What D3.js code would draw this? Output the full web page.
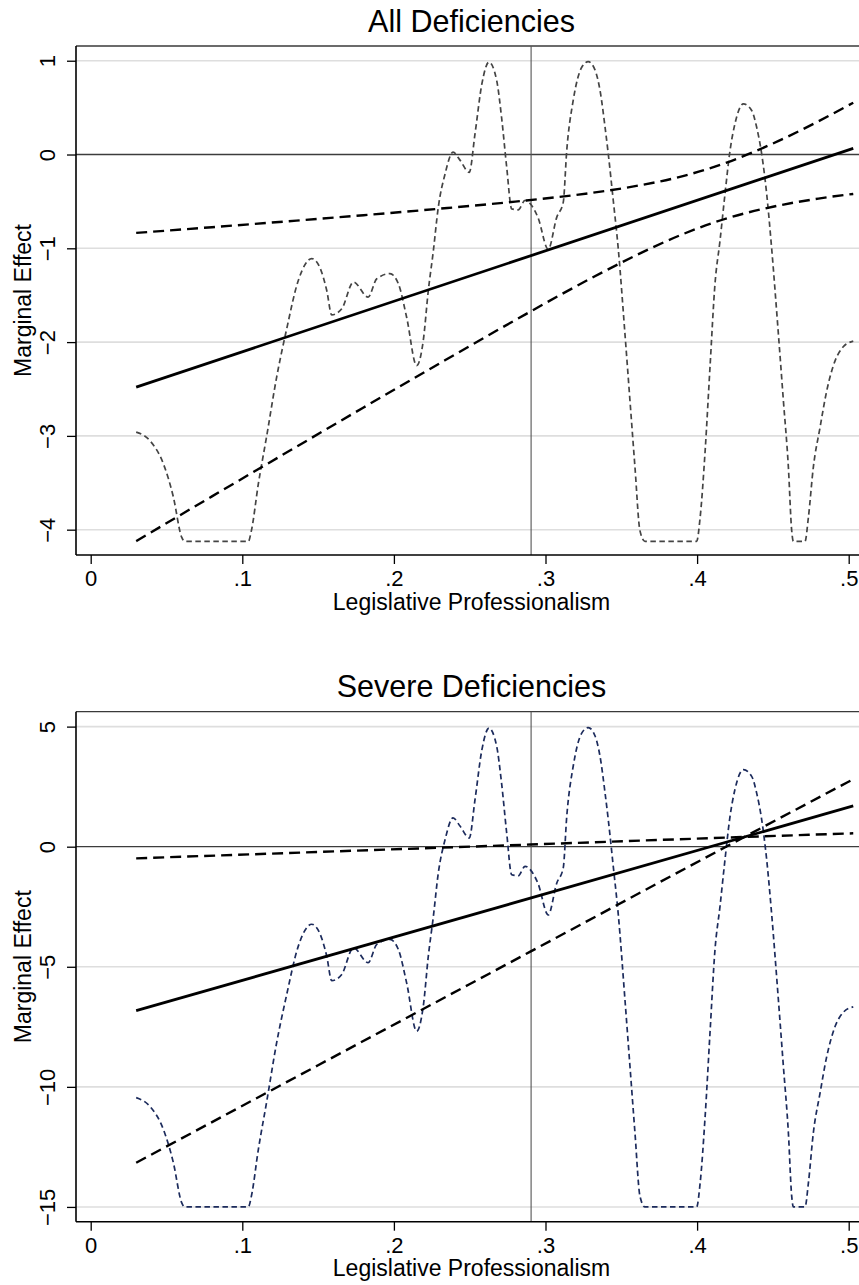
<!DOCTYPE html>
<html>
<head>
<meta charset="utf-8">
<script src="https://cdn.jsdelivr.net/npm/d3@7"></script>
<style>
  html, body { margin: 0; padding: 0; background: #fff; }
  svg { display: block; font-family: "Liberation Sans", Arial, sans-serif; }
</style>
</head>
<body>
<svg id="chart" width="859" height="1285"></svg>
<script>
// x ticks shared by both panels
const xTicks = [0, 0.1, 0.2, 0.3, 0.4, 0.5];
const meanProf = 0.2905;   // vertical reference line

// marginal effect lines (straight), read at the ends
const effectX = [0.03, 0.503];
const allEffect = [-2.48, 0.066];
const severeEffect = [-6.83, 1.70];

// confidence bounds, All Deficiencies
const allBandX = [0.03, 0.08, 0.13, 0.18, 0.23, 0.28, 0.33, 0.36, 0.39, 0.42, 0.45, 0.48, 0.503];
const allBandA = [-0.836, -0.775, -0.712, -0.647, -0.578, -0.502, -0.41, -0.335, -0.233, -0.083, 0.117, 0.354, 0.552];
const allBandB = [-4.122, -3.645, -3.17, -2.697, -2.228, -1.766, -1.32, -1.073, -0.853, -0.679, -0.557, -0.47, -0.42];

// confidence bounds, Severe Deficiencies
const severeBandX = [0.03, 0.15, 0.29, 0.42, 0.503];
const severeBandA = [-0.485, -0.22, 0.09, 0.38, 0.557];
const severeBandB = [-13.16, -9.1, -4.37, 0.03, 2.81];

// distribution of legislative professionalism (drawn in each panel's units)
const densX = [0.030, 0.039, 0.048, 0.0545, 0.060, 0.062, 0.104, 0.106, 0.1106, 0.116,
  0.1227, 0.129, 0.137, 0.1458, 0.151, 0.1557, 0.159, 0.1656, 0.1733, 0.183,
  0.1887, 0.1974, 0.203, 0.2084, 0.215, 0.2194, 0.2227, 0.226, 0.2293, 0.2337,
  0.239, 0.2436, 0.2497, 0.2535, 0.258, 0.2627, 0.2678, 0.271, 0.2744, 0.2777,
  0.282, 0.2865, 0.295, 0.3018, 0.3074, 0.3117, 0.314, 0.3183, 0.3239, 0.3282,
  0.3327, 0.336, 0.3393, 0.3414, 0.3447, 0.348, 0.3524, 0.3557, 0.359, 0.3623,
  0.3656, 0.3997, 0.402, 0.4053, 0.4085, 0.4118, 0.4151, 0.4184, 0.4217, 0.425,
  0.4305, 0.436, 0.4393, 0.4426, 0.4459, 0.4492, 0.4536, 0.4569, 0.4602, 0.4624,
  0.4635, 0.4712, 0.4734, 0.4767, 0.4811, 0.4855, 0.491, 0.4964, 0.503];
const densAll = [-2.96, -3.05, -3.30, -3.65, -4.08, -4.125, -4.125, -4.01, -3.51, -3.01,
  -2.37, -1.88, -1.34, -1.11, -1.20, -1.45, -1.71, -1.645, -1.36, -1.52,
  -1.325, -1.27, -1.38, -1.735, -2.25, -1.98, -1.45, -1.03, -0.56, -0.21,
  0.025, -0.06, -0.19, 0.22, 0.75, 0.985, 0.79, 0.40, -0.135, -0.58,
  -0.59, -0.49, -0.67, -1.01, -0.67, -0.51, 0.04, 0.58, 0.93, 0.99,
  0.90, 0.68, 0.29, 0.007, -0.49, -1.005, -1.91, -2.62, -3.33, -4.01,
  -4.125, -4.125, -3.87, -3.16, -2.27, -1.38, -0.92, -0.42, 0.04, 0.33,
  0.54, 0.47, 0.29, 0.007, -0.42, -1.005, -1.91, -2.62, -3.33, -4.01,
  -4.125, -4.125, -3.87, -3.33, -2.91, -2.52, -2.20, -2.05, -1.99];
const densSevere = [-10.45, -10.81, -11.78, -13.15, -14.82, -15.0, -15.0, -14.55, -12.60, -10.65,
  -8.15, -6.24, -4.13, -3.23, -3.59, -4.56, -5.58, -5.32, -4.21, -4.83,
  -4.07, -3.86, -4.29, -5.67, -7.68, -6.63, -4.56, -2.92, -1.09, 0.28,
  1.20, 0.86, 0.36, 1.96, 4.02, 4.94, 4.18, 2.66, 0.57, -1.17,
  -1.21, -0.82, -1.52, -2.84, -1.52, -0.89, 1.25, 3.36, 4.73, 4.96,
  4.61, 3.75, 2.23, 1.13, -0.82, -2.82, -6.36, -9.13, -11.90, -14.55,
  -15.0, -15.0, -14.01, -11.23, -7.76, -4.29, -2.49, -0.54, 1.25, 2.39,
  3.21, 2.93, 2.23, 1.13, -0.54, -2.82, -6.36, -9.13, -11.90, -14.55,
  -15.0, -15.0, -14.01, -11.90, -10.26, -8.74, -7.49, -6.90, -6.67];

const allTicks = [-4, -3, -2, -1, 0, 1];
const severeTicks = [-15, -10, -5, 0, 5];

const svg = d3.select("#chart");
const plotLeft = 76, plotRight = 867;

const x = d3.scaleLinear().domain([0, 0.5]).range([90.7, 848.7]);
const fmtX = d => d === 0 ? "0" : d3.format(".1f")(d).replace(/^0/, "");
const fmtY = d => d < 0 ? "\u2212" + Math.abs(d) : String(d);

function zip(xs, ys) {
    return xs.map((v, i) => [v, ys[i]]);
}

/**
 * draw one panel
 * @param p panel settings
 */
function drawPanel(p) {
    const y = d3.scaleLinear().domain(p.yDomain).range([p.bottom, p.top]);
    const g = svg.append("g");

    // grid lines at y ticks
    g.selectAll(".grid")
      .data(p.yTicks.filter(d => d !== 0))
      .enter().append("line")
        .attr("x1", plotLeft).attr("x2", plotRight)
        .attr("y1", d => y(d)).attr("y2", d => y(d))
        .attr("stroke", "#dedede").attr("stroke-width", 1.6);

    // plot region top border
    g.append("line")
        .attr("x1", plotLeft).attr("x2", plotRight)
        .attr("y1", p.top).attr("y2", p.top)
        .attr("stroke", "#3a3a3a").attr("stroke-width", 1.3);

    // zero line and mean line
    g.append("line")
        .attr("x1", plotLeft).attr("x2", plotRight)
        .attr("y1", y(0)).attr("y2", y(0))
        .attr("stroke", "#3c3c3c").attr("stroke-width", 1.3);
    g.append("line")
        .attr("x1", x(meanProf)).attr("x2", x(meanProf))
        .attr("y1", p.top).attr("y2", p.bottom)
        .attr("stroke", "#555").attr("stroke-width", 1.1);

    const line = d3.line()
        .x(d => x(d[0])).y(d => y(d[1]))
        .curve(d3.curveMonotoneX);

    // spot distribution curve
    g.append("path")
        .attr("d", line(zip(densX, p.dens)))
        .attr("fill", "none")
        .attr("stroke", p.densColor)
        .attr("stroke-width", 1.7)
        .attr("stroke-dasharray", "5.5,3.5");

    // confidence bounds
    [p.bandA, p.bandB].forEach(function(b) {
        g.append("path")
            .attr("d", line(zip(p.bandX, b)))
            .attr("fill", "none")
            .attr("stroke", "#000")
            .attr("stroke-width", 2.4)
            .attr("stroke-dasharray", "11,6");
    });

    // marginal effect
    g.append("path")
        .attr("d", d3.line().x(d => x(d[0])).y(d => y(d[1]))(zip(effectX, p.effect)))
        .attr("fill", "none")
        .attr("stroke", "#000")
        .attr("stroke-width", 2.8);

    // y axis
    const yAxis = g.append("g")
        .attr("transform", "translate(" + plotLeft + ",0)")
        .call(d3.axisLeft(y).tickValues(p.yTicks).tickSize(9).tickFormat(fmtY));
    yAxis.select(".domain").remove();
    yAxis.append("line")
        .attr("x1", 0).attr("x2", 0).attr("y1", p.top).attr("y2", p.bottom)
        .attr("stroke", "#000").attr("stroke-width", 1.6);
    yAxis.selectAll(".tick line").attr("stroke", "#000").attr("stroke-width", 1.3);
    yAxis.selectAll(".tick text")
        .attr("transform", "rotate(-90)")
        .attr("x", 0).attr("y", -21).attr("dy", null)
        .attr("text-anchor", "middle")
        .attr("fill", "#000")
        .style("font-size", "22px");
    yAxis.attr("font-family", null).attr("font-size", null);

    // x axis
    const xAxis = g.append("g")
        .attr("transform", "translate(0," + p.bottom + ")")
        .call(d3.axisBottom(x).tickValues(xTicks).tickSize(9).tickFormat(fmtX));
    xAxis.select(".domain").remove();
    xAxis.append("line")
        .attr("x1", plotLeft).attr("x2", plotRight).attr("y1", 0).attr("y2", 0)
        .attr("stroke", "#000").attr("stroke-width", 1.6);
    xAxis.selectAll(".tick line").attr("stroke", "#000").attr("stroke-width", 1.3);
    xAxis.selectAll(".tick text")
        .attr("y", 31).attr("dy", null)
        .attr("fill", "#000")
        .style("font-size", "22px");
    xAxis.attr("font-family", null).attr("font-size", null);

    // titles
    const midX = (plotLeft + plotRight) / 2;
    g.append("text")
        .attr("x", midX).attr("y", p.top - 14.5)
        .attr("text-anchor", "middle")
        .style("font-size", "30.5px")
        .text(p.title);
    g.append("text")
        .attr("x", midX).attr("y", p.bottom + 54.5)
        .attr("text-anchor", "middle")
        .style("font-size", "23px")
        .text("Legislative Professionalism");
    g.append("text")
        .attr("transform", "translate(31," + (p.top + p.bottom) / 2 + ") rotate(-90)")
        .attr("text-anchor", "middle")
        .style("font-size", "23px")
        .text("Marginal Effect");
}

drawPanel({
    title: "All Deficiencies",
    top: 46, bottom: 555,
    yDomain: [-4.270, 1.157],
    yTicks: allTicks,
    dens: densAll, densColor: "#444444",
    bandX: allBandX, bandA: allBandA, bandB: allBandB,
    effect: allEffect
});

drawPanel({
    title: "Severe Deficiencies",
    top: 711.7, bottom: 1221.7,
    yDomain: [-15.615, 5.621],
    yTicks: severeTicks,
    dens: densSevere, densColor: "#1c2b5c",
    bandX: severeBandX, bandA: severeBandA, bandB: severeBandB,
    effect: severeEffect
});
</script>
</body>
</html>
